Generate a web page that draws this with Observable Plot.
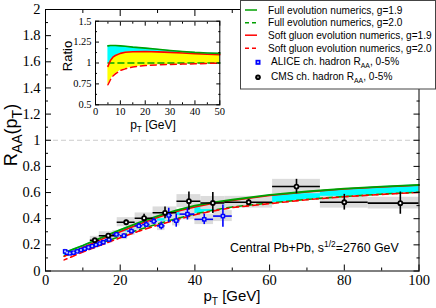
<!DOCTYPE html>
<html><head><meta charset="utf-8">
<script src="https://cdn.jsdelivr.net/npm/d3@7"></script>
<script src="https://cdn.jsdelivr.net/npm/@observablehq/plot@0.6"></script>
<style>
body{margin:0;background:#fff}
#wrap{position:relative;width:436px;height:308px;overflow:hidden;background:#fff}
#wrap svg{position:absolute;overflow:visible}
</style></head><body><div id="wrap"></div>
<script>
// ---- model curves (main panel)
const curvePt = [5,7.5,10,15,20,25,30,35,40,45,50,60,70,80,90,100];
const full19 = [0.139,0.168,0.195,0.255,0.315,0.370,0.420,0.463,0.500,0.525,0.545,0.582,0.608,0.630,0.646,0.659];
const full20 = [0.115,0.140,0.163,0.215,0.265,0.315,0.360,0.400,0.437,0.465,0.490,0.520,0.548,0.570,0.588,0.603];
const soft19 = [0.112,0.145,0.180,0.242,0.300,0.358,0.410,0.455,0.490,0.518,0.540,0.578,0.605,0.627,0.643,0.656];
const soft20 = [0.085,0.115,0.145,0.200,0.254,0.305,0.350,0.392,0.430,0.460,0.485,0.515,0.545,0.568,0.586,0.601];

// ---- ratio curves (inset)
const ratioPt = [5,6,7,8,10,12,15,20,25,30,35,40,45,50];
const ratioFull19 = [1.205,1.21,1.21,1.21,1.205,1.2,1.19,1.178,1.165,1.15,1.138,1.127,1.12,1.115];
const ratioFull20 = [1,1,1,1,1,1,1,1,1,1,1,1,1,1];
const ratioSoft19 = [0.96,1.03,1.07,1.09,1.115,1.128,1.135,1.137,1.133,1.127,1.12,1.112,1.105,1.1];
const ratioSoft20 = [0.74,0.80,0.845,0.87,0.91,0.93,0.952,0.97,0.978,0.983,0.987,0.99,0.995,0.998];

// ---- ALICE charged hadron RAA 0-5%
const alicePt  = [5.25,5.75,6.5,7.5,8.5,9.5,10.5,11.5,12.5,13.5,14.5,15.5,17,19,21,23,25,27,29,31,33,35,38,42.5,47.5];
const aliceLo  = [5,5.5,6,7,8,9,10,11,12,13,14,15,16,18,20,22,24,26,28,30,32,34,36,40,45];
const aliceHi  = [5.5,6,7,8,9,10,11,12,13,14,15,16,18,20,22,24,26,28,30,32,34,36,40,45,50];
const aliceVal = [0.15,0.14,0.135,0.14,0.15,0.16,0.17,0.18,0.19,0.2,0.21,0.22,0.24,0.28,0.27,0.305,0.345,0.355,0.38,0.345,0.425,0.385,0.435,0.395,0.42];
const aliceStat= [0.005,0.005,0.005,0.005,0.005,0.006,0.006,0.007,0.008,0.009,0.01,0.01,0.012,0.015,0.015,0.018,0.02,0.022,0.025,0.03,0.055,0.05,0.045,0.04,0.085];
const aliceSys = [0.018,0.017,0.016,0.017,0.018,0.019,0.02,0.021,0.022,0.023,0.024,0.025,0.027,0.03,0.03,0.032,0.035,0.036,0.038,0.036,0.042,0.04,0.043,0.04,0.042];

// ---- CMS charged hadron RAA 0-5%
const cmsPt  = [13.2,16.8,21.6,26.4,32,38.4,44.8,54.4,67.2,80,95];
const cmsLo  = [12,14.4,19.2,24,28.8,35.2,41.6,48,60.8,73.6,86.4];
const cmsHi  = [14.4,19.2,24,28.8,35.2,41.6,48,60.8,73.6,86.4,103.6];
const cmsVal = [0.235,0.27,0.373,0.404,0.445,0.534,0.52,0.526,0.646,0.526,0.519];
const cmsStat= [0.01,0.01,0.015,0.03,0.045,0.07,0.08,0.02,0.055,0.06,0.085];
const cmsSys = [0.03,0.03,0.035,0.04,0.045,0.05,0.05,0.045,0.055,0.045,0.045];

const legendLabels = [
  "Full evolution numerics, g=1.9",
  "Full evolution numerics, g=2.0",
  "Soft gluon evolution numerics, g=1.9",
  "Soft gluon evolution numerics, g=2.0"
];

// ---- tables
const curves = curvePt.map((pt,i)=>({pt, full19:full19[i], full20:full20[i], soft19:soft19[i], soft20:soft20[i]}));
const ratios = ratioPt.map((pt,i)=>({pt, f19:ratioFull19[i], f20:ratioFull20[i], s19:ratioSoft19[i], s20:ratioSoft20[i]}));
const alice = alicePt.map((pt,i)=>({pt, lo:aliceLo[i], hi:aliceHi[i], v:aliceVal[i], e:aliceStat[i], s:aliceSys[i]}));
const cms = cmsPt.map((pt,i)=>({pt, lo:cmsLo[i], hi:cmsHi[i], v:cmsVal[i], e:cmsStat[i], s:cmsSys[i]}));

const GREEN = "#00a000", RED = "#ff0000", BLUE = "#0000ff";
const SANS = "Liberation Sans, Arial, sans-serif";
const SERIF = "Liberation Serif, Times New Roman, serif";

function tickAxes(xMaj, xMin, yMaj, yMin, big, small) {
  const o = {fill: "none", label: null};
  return [
    Plot.axisX({...o, anchor: "bottom", ticks: xMaj, tickSize: -big}),
    Plot.axisX({...o, anchor: "bottom", ticks: xMin, tickSize: -small}),
    Plot.axisX({...o, anchor: "top", ticks: xMaj, tickSize: -big}),
    Plot.axisX({...o, anchor: "top", ticks: xMin, tickSize: -small}),
    Plot.axisY({...o, anchor: "left", ticks: yMaj, tickSize: -big}),
    Plot.axisY({...o, anchor: "left", ticks: yMin, tickSize: -small}),
    Plot.axisY({...o, anchor: "right", ticks: yMaj, tickSize: -big}),
    Plot.axisY({...o, anchor: "right", ticks: yMin, tickSize: -small})
  ];
}

const main = Plot.plot({
  width: 436, height: 308,
  marginLeft: 45, marginRight: 17.5, marginTop: 9, marginBottom: 37.5,
  x: {domain: [0, 100]},
  y: {domain: [0, 2]},
  style: {fontFamily: SERIF, fontSize: "14.5px", color: "black", background: "transparent", overflow: "visible"},
  marks: [
    Plot.ruleY([1], {stroke: "#cccccc", strokeDasharray: "5,3", strokeWidth: 1}),
    Plot.areaY(curves, {x: "pt", y1: "full20", y2: "full19", fill: "#00ffff"}),
    Plot.rect(alice, {x1: "lo", x2: "hi", y1: d => d.v - d.s, y2: d => d.v + d.s, fill: "#dcdcdc", clip: true}),
    Plot.rect(cms, {x1: "lo", x2: "hi", y1: d => d.v - d.s, y2: d => d.v + d.s, fill: "#dcdcdc", clip: true}),
    Plot.line(curves, {x: "pt", y: "full20", stroke: GREEN, strokeWidth: 1.6, strokeDasharray: "6,4"}),
    Plot.line(curves, {x: "pt", y: "soft20", stroke: RED, strokeWidth: 1.6, strokeDasharray: "6,4", strokeDashoffset: 3}),
    Plot.line(curves, {x: "pt", y: "soft19", stroke: RED, strokeWidth: 1.6}),
    Plot.line(curves, {x: "pt", y: "full19", stroke: GREEN, strokeWidth: 1.8}),
    Plot.ruleY(alice, {y: "v", x1: "lo", x2: "hi", stroke: BLUE, strokeWidth: 1.6}),
    Plot.ruleX(alice, {x: "pt", y1: d => d.v - d.e, y2: d => d.v + d.e, stroke: BLUE, strokeWidth: 1.6}),
    Plot.ruleY(cms, {y: "v", x1: "lo", x2: "hi", stroke: "black", strokeWidth: 1.6, clip: true}),
    Plot.ruleX(cms, {x: "pt", y1: d => d.v - d.e, y2: d => d.v + d.e, stroke: "black", strokeWidth: 1.6}),
    Plot.dot(alice, {x: "pt", y: "v", symbol: "square", r: 2.6, fill: BLUE}),
    Plot.dot(alice, {x: "pt", y: "v", r: 1.1, fill: "#b8c8ff"}),
    Plot.dot(cms, {x: "pt", y: "v", r: 2.9, fill: "black"}),
    Plot.dot(cms, {x: "pt", y: "v", r: 1.1, fill: "white"}),
    Plot.frame({stroke: "black", strokeWidth: 1}),
    ...tickAxes(d3.range(0, 101, 20), d3.range(10, 100, 20), d3.range(0, 2.01, 0.2), d3.range(0.1, 2, 0.2), 6, 3),
    Plot.axisX({ticks: d3.range(0, 101, 20), tickSize: 0, tickPadding: 4, tickFormat: d3.format("d"), label: null}),
    Plot.axisY({ticks: d3.range(0, 2.01, 0.2), tickSize: 0, tickPadding: 5, tickFormat: d => d3.format("~g")(+d.toFixed(1)), label: null})
  ]
});

const inset = Plot.plot({
  width: 175, height: 120,
  marginLeft: 40, marginRight: 10.7, marginTop: 7.7, marginBottom: 28.7,
  x: {domain: [0, 50]},
  y: {domain: [0.5, 1.5]},
  style: {fontFamily: SERIF, fontSize: "10.5px", color: "black", background: "transparent", overflow: "visible"},
  marks: [
    Plot.frame({fill: "white"}),
    Plot.areaY(ratios, {x: "pt", y1: "f20", y2: "f19", fill: "#00ffff"}),
    Plot.areaY(ratios, {x: "pt", y1: "s20", y2: "s19", fill: "#ffff00"}),
    Plot.line(ratios, {x: "pt", y: "f20", stroke: GREEN, strokeWidth: 1.5, strokeDasharray: "6,4"}),
    Plot.line(ratios, {x: "pt", y: "s20", stroke: RED, strokeWidth: 1.5, strokeDasharray: "6,4"}),
    Plot.line(ratios, {x: "pt", y: "s19", stroke: RED, strokeWidth: 1.6}),
    Plot.line(ratios, {x: "pt", y: "f19", stroke: GREEN, strokeWidth: 1.6}),
    Plot.frame({stroke: "black", strokeWidth: 1}),
    ...tickAxes(d3.range(0, 51, 10), d3.range(5, 50, 10), [0.5, 0.75, 1, 1.25, 1.5], [0.625, 0.875, 1.125, 1.375], 4, 2),
    Plot.axisX({ticks: d3.range(0, 51, 10), tickSize: 0, tickPadding: 3, tickFormat: d3.format("d"), label: null}),
    Plot.axisY({ticks: [0.5, 0.75, 1, 1.25, 1.5], tickSize: 0, tickPadding: 4, tickFormat: d3.format("~g"), label: null})
  ]
});

const wrap = document.getElementById("wrap");
main.style.left = "0px"; main.style.top = "0px";
inset.style.left = "55px"; inset.style.top = "13px";
wrap.appendChild(main);
wrap.appendChild(inset);

function rich(sel, parts, size, subScale = 0.68) {
  let shift = 0;
  for (const [t, k] of parts) {
    const target = k === "sub" ? size * 0.28 : k === "sup" ? -size * 0.42 : 0;
    sel.append("tspan").text(t).attr("dy", target - shift).attr("font-size", k === "n" ? size : size * subScale);
    shift = target;
  }
}

// main axis labels and annotation
const ms = d3.select(main);
rich(ms.append("text").attr("x", 232).attr("y", 301).attr("text-anchor", "middle").attr("font-family", SANS).attr("fill", "black"),
  [["p", "n"], ["T", "sub"], [" [GeV]", "n"]], 15);
rich(ms.append("text").attr("transform", "translate(17,135) rotate(-90)").attr("text-anchor", "middle").attr("font-family", SANS).attr("fill", "black"),
  [["R", "n"], ["AA", "sub"], ["(p", "n"], ["T", "sub"], [")", "n"]], 18, 0.78);
rich(ms.append("text").attr("x", 230).attr("y", 252).attr("text-anchor", "start").attr("font-family", SANS).attr("fill", "black"),
  [["Central Pb+Pb, s", "n"], ["1/2", "sup"], ["=2760 GeV", "n"]], 12.4);

// inset labels
const is = d3.select(inset);
rich(is.append("text").attr("x", 153 - 55).attr("y", 129 - 13).attr("text-anchor", "middle").attr("font-family", SANS).attr("fill", "black"),
  [["p", "n"], ["T", "sub"], [" [GeV]", "n"]], 12);
is.append("text").attr("transform", `translate(${72 - 55},${56 - 13}) rotate(-90)`).attr("text-anchor", "middle")
  .attr("font-family", SANS).attr("font-size", 13).attr("fill", "black").text("Ratio");

// legend
const LF = 10.1;
const lg = ms.append("g").attr("font-family", SANS).attr("font-size", LF).attr("fill", "black").attr("text-anchor", "start");
lg.append("rect").attr("x", 240.5).attr("y", 0.5).attr("width", 195).attr("height", 88.5).attr("fill", "white").attr("stroke", "#444").attr("stroke-width", 1);
const rowsY = [10, 22.7, 35.2, 48.3];
const styles = [[GREEN, null], [GREEN, "4,3"], [RED, null], [RED, "4,3"]];
legendLabels.forEach((t, i) => {
  lg.append("line").attr("x1", 245).attr("x2", 257).attr("y1", rowsY[i]).attr("y2", rowsY[i])
    .attr("stroke", styles[i][0]).attr("stroke-width", 1.5).attr("stroke-dasharray", styles[i][1]);
  lg.append("text").attr("x", 268).attr("y", rowsY[i] + 3.6).attr("text-anchor", "start").text(t);
});
lg.append("rect").attr("x", 255.5).attr("y", 59.8).attr("width", 5).attr("height", 5).attr("fill", BLUE);
lg.append("circle").attr("cx", 258).attr("cy", 62.3).attr("r", 1).attr("fill", "#b8c8ff");
lg.append("circle").attr("cx", 258).attr("cy", 77.3).attr("r", 2.8).attr("fill", "black");
lg.append("circle").attr("cx", 258).attr("cy", 77.3).attr("r", 1).attr("fill", "#888");
rich(lg.append("text").attr("x", 271).attr("y", 65).attr("text-anchor", "start"), [["ALICE ch. hadron R", "n"], ["AA", "sub"], [", 0-5%", "n"]], LF);
rich(lg.append("text").attr("x", 271).attr("y", 80).attr("text-anchor", "start"), [["CMS ch. hadron R", "n"], ["AA", "sub"], [", 0-5%", "n"]], LF);
</script></body></html>
